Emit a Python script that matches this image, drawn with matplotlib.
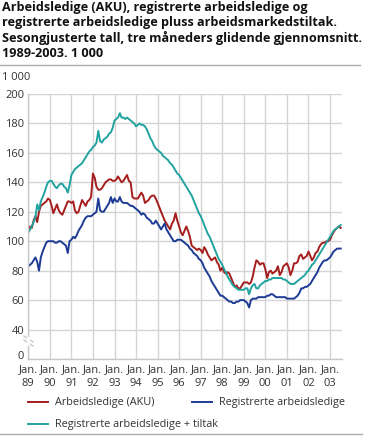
import matplotlib
matplotlib.use('Agg')
import matplotlib.pyplot as plt
from matplotlib.lines import Line2D
import pandas as pd

# monthly values, Jan 1989 - Jul 2003 (1 000 persons)
aku = [107, 110, 109, 114, 117, 113, 120, 124, 125, 126, 127, 129,
       128, 124, 119, 122, 125, 121, 119, 118, 121, 124, 127, 127,
       126, 127, 121, 119, 120, 124, 128, 126, 124, 127, 128, 130,
       146, 143, 137, 135, 135, 136, 138, 140, 141, 142, 142, 141,
       141, 142, 144, 142, 140, 141, 143, 145, 141, 140, 130, 129,
       129, 129, 131, 133, 131, 126, 127, 128, 130, 131, 131, 129,
       126, 123, 120, 117, 114, 112, 110, 108, 112, 114, 119, 114,
       110, 106, 104, 107, 110, 107, 103, 97, 96, 95, 94, 95,
       94, 92, 96, 94, 91, 89, 87, 88, 89, 86, 84, 80,
       82, 79, 78, 79, 78, 75, 72, 69, 70, 68, 68, 70,
       72, 72, 72, 71, 72, 76, 82, 87, 86, 84, 85, 85,
       81, 75, 79, 80, 78, 79, 80, 83, 77, 79, 83, 84,
       85, 82, 77, 80, 85, 85, 86, 90, 91, 88, 89, 90,
       93, 90, 87, 89, 92, 93, 96, 98, 99, 99, 100, 100,
       101, 104, 106, 108, 109, 110, 109]

reg = [83, 84, 85, 87, 89, 86, 80, 89, 93, 96, 99, 100,
       100, 100, 100, 99, 99, 100, 100, 99, 98, 97, 92, 100,
       101, 103, 102, 104, 107, 109, 111, 114, 116, 117, 117, 117,
       118, 119, 120, 129, 121, 120, 120, 122, 124, 126, 130, 126,
       129, 127, 127, 130, 127, 126, 126, 126, 125, 124, 124, 123,
       122, 121, 120, 118, 119, 118, 116, 115, 114, 112, 112, 114,
       112, 110, 108, 110, 112, 108, 106, 104, 102, 100, 100, 101,
       101, 101, 100, 99, 98, 97, 95, 94, 92, 91, 90, 88,
       87, 85, 82, 80, 78, 76, 73, 71, 69, 67, 65, 63,
       63, 62, 61, 60, 59, 59, 58, 58, 59, 59, 60, 60,
       60, 59, 58, 55, 60, 61, 61, 61, 62, 62, 62, 62,
       62, 63, 63, 64, 64, 63, 62, 62, 62, 62, 62, 62,
       61, 61, 61, 61, 61, 62, 63, 65, 68, 68, 69, 69,
       70, 71, 73, 75, 77, 79, 82, 84, 86, 87, 87, 88,
       89, 91, 93, 94, 95, 95, 95]

tiltak = [106, 108, 110, 113, 116, 125, 121, 127, 130, 133, 137, 140,
          141, 141, 139, 137, 136, 138, 139, 139, 137, 136, 133, 138,
          145, 147, 149, 150, 151, 152, 153, 155, 157, 159, 161, 162,
          164, 165, 167, 175, 168, 167, 169, 170, 171, 173, 174, 177,
          182, 183, 184, 187, 184, 184, 183, 184, 183, 182, 181, 180,
          178, 179, 180, 179, 179, 178, 176, 173, 170, 168, 165, 163,
          162, 161, 160, 158, 157, 156, 155, 153, 152, 150, 148, 146,
          145, 143, 141, 139, 137, 135, 133, 131, 128, 125, 122, 119,
          117, 114, 111, 108, 105, 103, 100, 97, 94, 91, 88, 86,
          84, 81, 79, 76, 74, 72, 70, 69, 68, 67, 67, 67,
          67, 68, 68, 64, 68, 70, 71, 68, 68, 70, 71, 72,
          73, 73, 74, 74, 75, 75, 75, 75, 75, 75, 74, 74,
          73, 72, 71, 71, 71, 72, 73, 74, 75, 76, 77, 79,
          80, 82, 84, 85, 87, 89, 91, 93, 95, 97, 99, 101,
          103, 105, 107, 108, 109, 110, 111]

labels = ['Arbeidsledige (AKU)', 'Registrerte arbeidsledige',
          'Registrerte arbeidsledige + tiltak']
colors = ['#a51d1d', '#1d3a94', '#22a3a0']
years = ['89', '90', '91', '92', '93', '94', '95', '96', '97', '98',
         '99', '00', '01', '02', '03']

dates = pd.date_range('1989-01-01', periods=len(aku), freq='MS')

plt.rcParams['font.family'] = ['Open Sans', 'DejaVu Sans']
W, H = 367, 436
fig = plt.figure(figsize=(W / 100, H / 100), dpi=100)

ax = fig.add_axes([28.3 / W, 1 - 359 / H, (342.3 - 28.3) / W, (359 - 94) / H])
for vals, c in zip([aku, reg, tiltak], colors):
    ax.plot(dates, vals, color=c, lw=1.4, solid_joinstyle='round')

# axis break: "0" is drawn where 20 would be
ax.set_ylim(20, 200)
ax.set_yticks([20, 40, 60, 80, 100, 120, 140, 160, 180, 200])
ylabs = ax.set_yticklabels(['0', '40', '60', '80', '100', '120', '140', '160', '180', '200'])
ylabs[0].set_verticalalignment('baseline')
ticks = [pd.Timestamp(('19' if int(y) > 50 else '20') + y + '-01-01') for y in years]
ax.set_xticks(ticks)
ax.set_xticklabels(['Jan.\n' + y for y in years], linespacing=1.4)
ax.set_xlim(pd.Timestamp('1989-01-01'), pd.Timestamp('2003-07-28'))

ax.grid(True, color='#d4d4d4', lw=1.0)
ax.set_axisbelow(True)
for s in ['top', 'right']:
    ax.spines[s].set_visible(False)
for s in ['left', 'bottom']:
    ax.spines[s].set_color('#c8c8c8')
    ax.spines[s].set_linewidth(1.0)
ax.tick_params(length=0, labelsize=8.0, labelcolor='#333333')
ax.tick_params(axis='x', pad=3.5)
ax.tick_params(axis='y', pad=3)

# break marks on the y axis
for dy in [0, 4]:
    fig.add_artist(Line2D([24 / W, 33 / W], [1 - (336 + dy) / H, 1 - (342 + dy) / H],
                          color='#c8c8c8', lw=1.0))
fig.add_artist(Line2D([28.3 / W, 28.3 / W], [1 - 338 / H, 1 - 344 / H], color='white', lw=2))

# title and rules
fig.text(2 / W, 1 - 1 / H,
         'Arbeidsledige (AKU), registrerte arbeidsledige og\n'
         'registrerte arbeidsledige pluss arbeidsmarkedstiltak.\n'
         'Sesongjusterte tall, tre måneders glidende gjennomsnitt.\n'
         '1989-2003. 1 000',
         ha='left', va='top', fontsize=9.1, fontweight='bold', linespacing=1.2,
         color='#111111')
fig.add_artist(Line2D([0, 360 / W], [1 - 65 / H, 1 - 65 / H], color='#aaaaaa', lw=1.0))
fig.add_artist(Line2D([0, 362 / W], [1 - 434 / H, 1 - 434 / H], color='#aaaaaa', lw=1.0))
fig.text(2 / W, 1 - 78 / H, '1 000', ha='left', va='center', fontsize=8.0, color='#333333')

# legend
leg = [(28, 402), (192, 402), (28, 424)]
for (lx, ly), lab, c in zip(leg, labels, colors):
    fig.add_artist(Line2D([lx / W, (lx + 20) / W], [1 - ly / H, 1 - ly / H], color=c, lw=1.4))
    fig.text((lx + 27) / W, 1 - ly / H, lab, ha='left', va='center', fontsize=7.8,
             color='#333333')

fig.savefig('out.png', dpi=100)
